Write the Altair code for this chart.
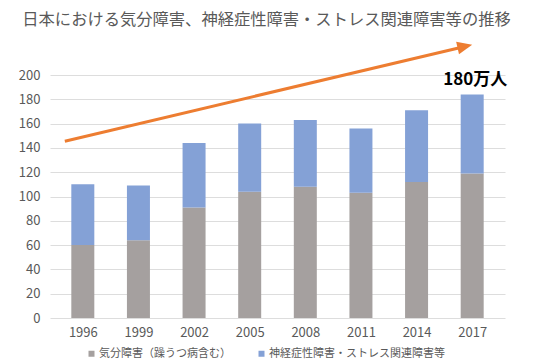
import altair as alt
import pandas as pd

years = [1996, 1999, 2002, 2005, 2008, 2011, 2014, 2017]
mood = [60, 64, 91, 104, 108, 103, 112, 119]
neurotic = [50, 45, 53, 56, 55, 53, 59, 65]
series_names = ["気分障害（躁うつ病含む）", "神経症性障害・ストレス関連障害等"]
series_colors = ["#A5A09F", "#84A1D6"]
title_text = "日本における気分障害、神経症性障害・ストレス関連障害等の推移"
label_text = "180万人"
y_ticks = [0, 20, 40, 60, 80, 100, 120, 140, 160, 180, 200]

arrow_x = [1995.03, 2016.61]
arrow_y = [145.5, 223.5]
arrow_tip_x = [2017.0]
arrow_tip_y = [225.0]

FONT = "Noto Sans CJK JP"

rows = []
for i, y in enumerate(years):
    rows.append({"year": y, "series": series_names[0], "value": mood[i], "ord": 0})
    rows.append({"year": y, "series": series_names[1], "value": neurotic[i], "ord": 1})
df = pd.DataFrame(rows)

xscale = alt.Scale(domain=[1994.5, 2018.5], nice=False, zero=False)
yscale = alt.Scale(domain=[0, 200], nice=False)
xaxis = alt.Axis(values=years, format="d", title=None, grid=False, ticks=False,
                 domain=False, labelPadding=8, labelFontSize=13,
                 labelColor="#595959", labelFont=FONT)
yaxis = alt.Axis(values=y_ticks, title=None, ticks=False, domain=False,
                 labelPadding=10, labelFontSize=13, labelColor="#595959",
                 labelOverlap=False, grid=True,
                 labelFont=FONT, gridColor="#DDDDDD", minExtent=42, maxExtent=42)

bars = alt.Chart(df).mark_bar(size=23).encode(
    x=alt.X("year:Q", scale=xscale, axis=xaxis),
    y=alt.Y("value:Q", stack="zero", scale=yscale, axis=yaxis),
    color=alt.Color("series:N", scale=alt.Scale(domain=series_names, range=series_colors),
                    legend=alt.Legend(title=None, orient="none", legendX=36, legendY=273,
                                      direction="horizontal", symbolType="square", symbolSize=36,
                                      labelFontSize=11, labelColor="#595959", labelFont=FONT,
                                      labelLimit=400,
                                      columnPadding=25, labelOffset=2, symbolStrokeWidth=0)),
    order=alt.Order("ord:Q"),
)

total_df = pd.DataFrame({"year": [years[-1]], "total": [mood[-1] + neurotic[-1]], "label": [label_text]})
label = alt.Chart(total_df).mark_text(fontWeight="bold", fontSize=17, color="#000000",
                                      baseline="bottom", dy=-5, dx=3, font=FONT).encode(
    x=alt.X("year:Q", scale=xscale, axis=xaxis),
    y=alt.Y("total:Q", scale=yscale, axis=yaxis), text="label:N")

arrow_df = pd.DataFrame({"x": arrow_x, "y": arrow_y})
arrow_line = alt.Chart(arrow_df).mark_line(color="#ED7D31", strokeWidth=3, clip=False).encode(
    x=alt.X("x:Q", scale=xscale, axis=xaxis), y=alt.Y("y:Q", scale=yscale, axis=yaxis))

tip_df = pd.DataFrame({"x": arrow_tip_x, "y": arrow_tip_y})
arrow_head = alt.Chart(tip_df).mark_point(
    shape="M0,0 L-1,-0.42 L-1,0.42 Z", size=900, filled=True, color="#ED7D31",
    opacity=1, angle=347, clip=False, strokeWidth=0).encode(
    x=alt.X("x:Q", scale=xscale, axis=xaxis), y=alt.Y("y:Q", scale=yscale, axis=yaxis))

chart = alt.layer(bars, arrow_line, arrow_head, label).properties(
    width=455, height=243,
    title=alt.TitleParams(title_text, fontSize=16.3, color="#595959", font=FONT, fontWeight="normal",
                          anchor="middle", frame="group", dx=-11, dy=3, baseline="alphabetic", offset=2),
    autosize=alt.AutoSizeParams(type="none"),
    padding={"left": 42, "top": 67, "right": 22, "bottom": 44},
).configure_view(stroke=None)

chart.save("out.html", embed_options={"renderer": "svg", "actions": False})
